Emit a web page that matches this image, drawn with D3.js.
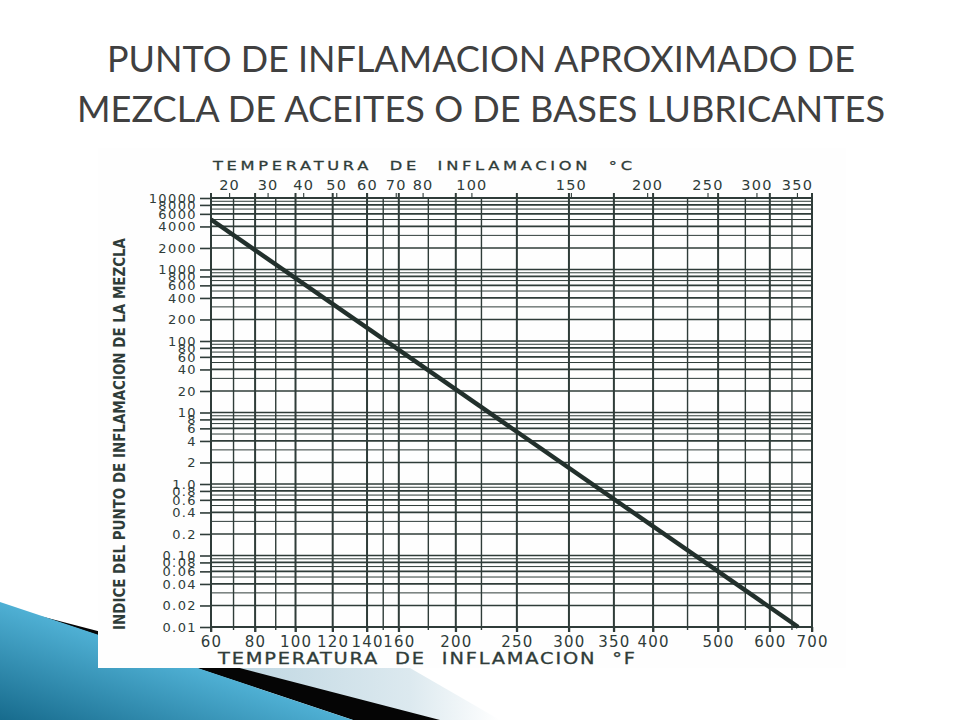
<!DOCTYPE html>
<html>
<head>
<meta charset="utf-8">
<script src="https://cdn.jsdelivr.net/npm/d3@7"></script>
<style>
body { margin: 0; background: #fff; }
svg { display: block; }
</style>
</head>
<body>
<div id="my_dataviz"></div>
<script>

// values
const fahrenheitTicks = [60, 80, 100, 120, 140, 160, 200, 250, 300, 350, 400, 500, 600, 700];
const fahrenheitMinor = [70, 90, 150, 180, 220, 450, 550, 650];
const celsiusTicks = [20, 30, 40, 50, 60, 70, 80, 100, 150, 200, 250, 300, 350];
const indexTicks = [10000, 8000, 6000, 4000, 2000, 1000, 800, 600, 400, 200, 100, 80, 60, 40, 20, 10, 8, 6, 4, 2,
	1, 0.8, 0.6, 0.4, 0.2, 0.1, 0.08, 0.06, 0.04, 0.02, 0.01];
const indexLabels = ["10000", "8000", "6000", "4000", "2000", "1000", "800", "600", "400", "200", "100", "80", "60", "40", "20", "10", "8", "6", "4", "2",
	"1.0", "0.8", "0.6", "0.4", "0.2", "0.10", "0.08", "0.06", "0.04", "0.02", "0.01"];

// the blending line (flash point °F -> blending index)
const lineTemp = [60, 665];
const lineIndex = [5000, 0.01];

const titleLines = ["PUNTO DE INFLAMACION APROXIMADO DE", "MEZCLA DE ACEITES O DE BASES LUBRICANTES"];

drawSlide();

function drawSlide()
{
	const svg = d3.select("#my_dataviz")
		.append("svg")
		.attr("width", 960)
		.attr("height", 720);

	const defs = svg.append("defs");
	const blue = defs.append("linearGradient")
		.attr("id", "blueGrad")
		.attr("x1", 0).attr("y1", 1).attr("x2", 1).attr("y2", 0);
	blue.append("stop").attr("offset", 0).attr("stop-color", "#176b8d");
	blue.append("stop").attr("offset", 0.5).attr("stop-color", "#4fb0d4");
	blue.append("stop").attr("offset", 0.8).attr("stop-color", "#2a8fb5");
	blue.append("stop").attr("offset", 1).attr("stop-color", "#0c5878");

	const pale = defs.append("linearGradient")
		.attr("id", "paleGrad")
		.attr("x1", 0).attr("y1", 0).attr("x2", 1).attr("y2", 0);
	pale.append("stop").attr("offset", 0).attr("stop-color", "#b9d3df");
	pale.append("stop").attr("offset", 0.7).attr("stop-color", "#dce9ef");
	pale.append("stop").attr("offset", 1).attr("stop-color", "#ffffff");

	// slide decoration, bottom left
	svg.append("path").attr("d", "M200,668 L410,668 L500,720 L440,720 Z").attr("fill", "url(#paleGrad)");
	svg.append("path").attr("d", "M40,616 L440,720 L353,720 Z").attr("fill", "#050505");
	svg.append("path").attr("d", "M0,602 L353,720 L0,720 Z").attr("fill", "url(#blueGrad)");

	// slide title
	svg.append("g")
		.selectAll("text")
		.data(titleLines)
		.join("text")
		.attr("x", 481)
		.attr("y", (d, i) => 72 + i * 50)
		.attr("text-anchor", "middle")
		.attr("font-family", "Lato, 'Open Sans', sans-serif")
		.attr("font-size", 36)
		.attr("fill", "#404040")
		.attr("textLength", (d, i) => i == 0 ? 748 : 808)
		.attr("lengthAdjust", "spacingAndGlyphs")
		.text(d => d);

	// white sheet of the scanned picture
	svg.append("rect")
		.attr("x", 98).attr("y", 148)
		.attr("width", 748).attr("height", 520)
		.attr("fill", "#fefefe");

	drawChart(svg);
}

function drawChart(svg)
{
	const ink = "#2f3c39";
	const left = 211, right = 812, top = 198, bottom = 627;

	// x is linear in 1/(T + 380), that is how the scan spaces its °F scale
	const shift = 380;
	const recip = t => 1 / (t + shift);
	const x = d3.scaleLinear()
		.domain([recip(60), recip(700)])
		.range([left, right]);
	const xF = t => x(recip(t));

	const y = d3.scaleLog()
		.domain([0.01, 10000])
		.range([bottom, top]);

	const g = svg.append("g");

	// horizontal grid: every 1..9 of each decade
	g.append("g")
		.selectAll("line")
		.data(y.ticks())
		.join("line")
		.attr("x1", left).attr("x2", right)
		.attr("y1", d => y(d)).attr("y2", d => y(d))
		.attr("stroke", ink)
		.attr("stroke-width", d => indexTicks.some(v => Math.abs(v - d) / d < 1e-6) ? 1.7 : 1.0);

	// vertical grid
	g.append("g")
		.selectAll("line")
		.data(fahrenheitMinor)
		.join("line")
		.attr("x1", d => xF(d)).attr("x2", d => xF(d))
		.attr("y1", top).attr("y2", bottom + 3)
		.attr("stroke", ink)
		.attr("stroke-width", 1.4);

	g.append("g")
		.selectAll("line")
		.data(fahrenheitTicks)
		.join("line")
		.attr("x1", d => xF(d)).attr("x2", d => xF(d))
		.attr("y1", top - 5).attr("y2", bottom + 5)
		.attr("stroke", ink)
		.attr("stroke-width", 2);

	// bottom °F axis
	const xAxis = g.append("g")
		.attr("transform", `translate(0,${bottom})`)
		.call(d3.axisBottom(x)
			.tickValues(fahrenheitTicks.map(recip))
			.tickFormat((d, i) => fahrenheitTicks[i])
			.tickSize(5)
			.tickPadding(4));
	styleAxis(xAxis, ink);
	xAxis.selectAll("text")
		.attr("font-size", 15)
		.attr("letter-spacing", "1.2px");

	// top °C axis, ticks placed at the matching °F
	const cAxis = g.append("g")
		.attr("transform", `translate(0,${top})`)
		.call(d3.axisTop(x)
			.tickValues(celsiusTicks.map(c => recip(c * 9 / 5 + 32)))
			.tickFormat((d, i) => celsiusTicks[i])
			.tickSize(5)
			.tickPadding(3));
	styleAxis(cAxis, ink);
	cAxis.selectAll("line").attr("stroke-width", 1.1);
	cAxis.selectAll("text")
		.attr("font-size", 14.5)
		.attr("letter-spacing", "1.2px");

	// left index axis
	const yAxis = g.append("g")
		.attr("transform", `translate(${left},0)`)
		.call(d3.axisLeft(y)
			.tickValues(indexTicks)
			.tickFormat((d, i) => indexLabels[i])
			.tickSize(11)
			.tickPadding(3));
	styleAxis(yAxis, ink);
	yAxis.selectAll("text")
		.attr("font-size", 13)
		.attr("letter-spacing", "1.4px");

	// frame
	g.append("rect")
		.attr("x", left).attr("y", top)
		.attr("width", right - left).attr("height", bottom - top)
		.attr("fill", "none")
		.attr("stroke", ink)
		.attr("stroke-width", 2);

	// the blend line
	const pts = lineTemp.map((t, i) => [t, lineIndex[i]]);
	g.append("path")
		.datum(pts)
		.attr("fill", "none")
		.attr("stroke", "#22302c")
		.attr("stroke-width", 4.4)
		.attr("d", d3.line().x(d => xF(d[0])).y(d => y(d[1])));

	// axis titles, wide lettering like the scan
	axisTitle(g, "TEMPERATURA  DE  INFLAMACION  \u00B0C", 213, 170, 13, 419, ink);
	axisTitle(g, "TEMPERATURA  DE  INFLAMACION  \u00B0F", 218, 664, 15.5, 417, ink);

	g.append("text")
		.attr("transform", "translate(125,434) rotate(-90)")
		.attr("text-anchor", "middle")
		.attr("font-family", "'DejaVu Sans Condensed', 'DejaVu Sans', sans-serif")
		.attr("font-stretch", "condensed")
		.attr("font-weight", "bold")
		.attr("font-size", 15.5)
		.attr("fill", ink)
		.attr("textLength", 392)
		.attr("lengthAdjust", "spacingAndGlyphs")
		.text("INDICE DEL PUNTO DE INFLAMACION DE LA MEZCLA");
}

function axisTitle(g, label, x0, y0, size, width, ink)
{
	const stretch = 1.25;
	g.append("text")
		.attr("transform", `translate(${x0},${y0}) scale(${stretch},1)`)
		.attr("font-family", "'DejaVu Sans', sans-serif")
		.attr("font-size", size)
		.attr("stroke", ink)
		.attr("stroke-width", 0.3)
		.attr("fill", ink)
		.attr("textLength", width / stretch)
		.attr("lengthAdjust", "spacing")
		.attr("xml:space", "preserve")
		.text(label);
}

function styleAxis(axis, ink)
{
	axis.select(".domain").remove();
	axis.selectAll("line")
		.attr("stroke", ink)
		.attr("stroke-width", 1.6);
	axis.selectAll("text")
		.attr("font-family", "'DejaVu Sans', sans-serif")
		.attr("fill", ink);
}

</script>
</body>
</html>
